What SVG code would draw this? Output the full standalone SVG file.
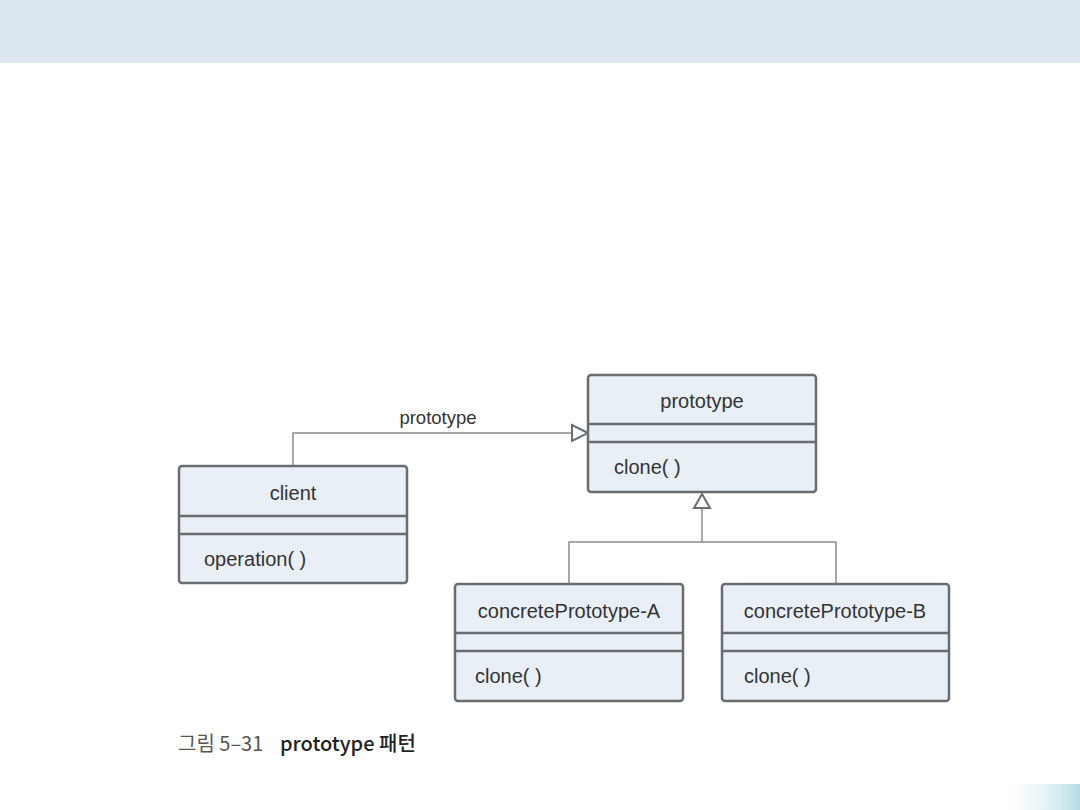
<svg xmlns="http://www.w3.org/2000/svg" width="1080" height="810" viewBox="0 0 1080 810">
<style>
.box{fill:#e9eff6;stroke:#6a6d70;stroke-width:2.5}
.div{stroke:#6a6d70;stroke-width:2.5}
.t{font-family:"Liberation Sans",Arial,sans-serif;font-size:20px;fill:#333}
.c{stroke:#8a8c8e;stroke-width:1.5;fill:none}
.tri{fill:#fff;stroke:#6a6d70;stroke-width:2}
</style>
<defs>
<linearGradient id="g" x1="0" y1="0" x2="1" y2="0">
<stop offset="0" stop-color="#ffffff" stop-opacity="0"/>
<stop offset="1" stop-color="#b3dbe5"/>
</linearGradient>
</defs>
<rect width="1080" height="810" fill="#fff"/>
<rect x="0" y="0" width="1080" height="63" fill="#dce6f1"/>
<rect x="995" y="784" width="85" height="26" fill="url(#g)"/>
<g id="connectors">
<polyline class="c" points="293,466 293,433 572,433"/>
<polygon class="tri" points="572,425 588,433 572,441"/>
<polyline class="c" points="702,508 702,542"/>
<polyline class="c" points="569,584 569,542 836,542 836,584"/>
<polygon class="tri" points="702,494 694,508 710,508"/>
<text class="t" x="438" y="424" text-anchor="middle" style="font-size:18.5px">prototype</text>
</g>
<g id="prototype">
<rect class="box" x="588" y="375" width="228" height="117" rx="3"/>
<line class="div" x1="588" y1="424" x2="816" y2="424"/>
<line class="div" x1="588" y1="442" x2="816" y2="442"/>
<text class="t" x="702" y="408" text-anchor="middle">prototype</text>
<text class="t" x="614" y="474">clone( )</text>
</g>
<g id="client">
<rect class="box" x="179" y="466" width="228" height="117" rx="3"/>
<line class="div" x1="179" y1="516" x2="407" y2="516"/>
<line class="div" x1="179" y1="534" x2="407" y2="534"/>
<text class="t" x="293" y="500" text-anchor="middle">client</text>
<text class="t" x="204" y="566">operation( )</text>
</g>
<g id="concreteA">
<rect class="box" x="455" y="584" width="228" height="117" rx="3"/>
<line class="div" x1="455" y1="633" x2="683" y2="633"/>
<line class="div" x1="455" y1="651" x2="683" y2="651"/>
<text class="t" x="569" y="618" text-anchor="middle">concretePrototype-A</text>
<text class="t" x="475" y="683">clone( )</text>
</g>
<g id="concreteB">
<rect class="box" x="722" y="584" width="227" height="117" rx="3"/>
<line class="div" x1="722" y1="633" x2="949" y2="633"/>
<line class="div" x1="722" y1="651" x2="949" y2="651"/>
<text class="t" x="835" y="618" text-anchor="middle">concretePrototype-B</text>
<text class="t" x="744" y="683">clone( )</text>
</g>
<text x="178" y="751" font-family="'Noto Sans CJK KR','Liberation Sans',sans-serif" font-size="20" fill="#555">그림 5–31</text>
<text x="280" y="751" font-family="'Noto Sans CJK KR','Liberation Sans',sans-serif" font-size="20" fill="#222" font-weight="500">prototype 패턴</text>
</svg>
